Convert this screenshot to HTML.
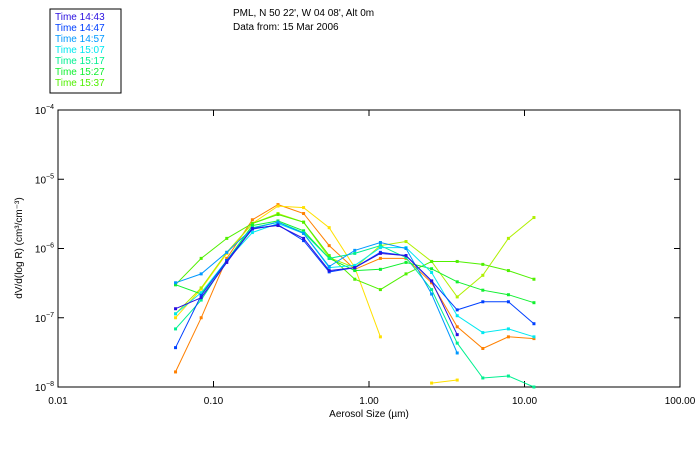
<!DOCTYPE html>
<html><head><meta charset="utf-8"><style>
body{margin:0;background:#fff;width:700px;height:450px;overflow:hidden}
svg{font-family:"Liberation Sans",sans-serif;font-size:10px}
</style></head><body>
<svg id="chart" width="700" height="450">
<rect x="50" y="9" width="71" height="84" fill="none" stroke="#000"/>
<g id="legend"></g>
<text x="233" y="16">PML, N 50 22', W 04 08', Alt 0m</text>
<text x="233" y="30">Data from: 15 Mar 2006</text>
<rect x="58" y="110" width="622" height="277" fill="none" stroke="#000"/>
<g id="axes"></g>
<g id="series"></g>
<text x="369" y="417" text-anchor="middle">Aerosol Size (µm)</text>
<text transform="translate(22,248) rotate(-90)" text-anchor="middle">dV/d(log R) (cm³/cm⁻³)</text>
</svg>
<script>
const sizes=[0.057,0.0833,0.1217,0.1778,0.2598,0.3796,0.5546,0.810,1.184,1.730,2.527,3.692,5.394,7.88,11.5];
const xTicks=[0.01,0.1,1,10,100];
const xTickLabels=["0.01","0.10","1.00","10.00","100.00"];
const yTickExp=[-4,-5,-6,-7,-8];
const seriesNames=["Time 14:43","Time 14:47","Time 14:57","Time 15:07","Time 15:17","Time 15:27","Time 15:37"];
const seriesColors=["#2a10e0","#0040ff","#0098ff","#00e8f0","#00f090","#10f030","#50f000"];
const sOrange=[1.65e-8,1e-7,7.2e-7,2.6e-6,4.3e-6,3.2e-6,1.1e-6,5.0e-7,7.2e-7,7.2e-7,3.2e-7,7.4e-8,3.6e-8,5.3e-8,5.0e-8];
const sYellow=[1e-7,2.6e-7,8.5e-7,2.3e-6,4.1e-6,3.9e-6,2.0e-6,5.3e-7,5.3e-8,null,1.14e-8,1.26e-8,null,null,null];
const sLime=[1.14e-7,2.7e-7,8.8e-7,2.3e-6,3.2e-6,2.4e-6,7.4e-7,5.3e-7,1.1e-6,1.26e-6,6.5e-7,2.0e-7,4.1e-7,1.4e-6,2.8e-6];
const s1537=[3.0e-7,7.2e-7,1.4e-6,2.3e-6,3.1e-6,2.4e-6,7.9e-7,3.6e-7,2.55e-7,4.3e-7,6.5e-7,6.5e-7,5.9e-7,4.8e-7,3.6e-7];
const s1527=[3.0e-7,2.2e-7,6.7e-7,2.15e-6,2.5e-6,1.8e-6,7.2e-7,4.8e-7,5.0e-7,6.3e-7,5.1e-7,3.3e-7,2.5e-7,2.15e-7,1.65e-7];
const s1517=[6.9e-8,1.8e-7,6.7e-7,2.0e-6,2.4e-6,1.7e-6,7.2e-7,8.5e-7,1.1e-6,7.4e-7,2.55e-7,4.3e-8,1.35e-8,1.44e-8,1.0e-8];
const s1507=[1.14e-7,2.3e-7,6.7e-7,1.7e-6,2.3e-6,1.65e-6,5.3e-7,5.7e-7,1.03e-6,1.03e-6,4.5e-7,1.07e-7,6.1e-8,6.9e-8,5.3e-8];
const s1457=[3.2e-7,4.3e-7,8.8e-7,1.95e-6,2.4e-6,1.65e-6,5.5e-7,9.4e-7,1.22e-6,1.0e-6,2.2e-7,3.1e-8,null,null,null];
const s1447=[3.7e-8,2.1e-7,6.7e-7,1.9e-6,2.2e-6,1.3e-6,4.6e-7,5.3e-7,8.8e-7,7.9e-7,3.4e-7,1.3e-7,1.7e-7,1.7e-7,8.2e-8];
const s1443=[1.35e-7,1.95e-7,6.3e-7,1.95e-6,2.15e-6,1.4e-6,4.8e-7,5.3e-7,8.5e-7,7.9e-7,3.4e-7,5.7e-8,null,null,null];
const NS="http://www.w3.org/2000/svg";
const X0=58,X1=680,Y0=110,Y1=387;
function xs(v){return X0+(Math.log10(v)+2)/4*(X1-X0);}
function ys(v){return Y0+(-4-Math.log10(v))/4*(Y1-Y0);}
function mk(tag,attrs,parent){const e=document.createElementNS(NS,tag);for(const k in attrs)e.setAttribute(k,attrs[k]);parent.appendChild(e);return e;}
const axes=document.getElementById('axes');
xTicks.forEach((t,i)=>{
  const x=xs(t);
  const a=mk('line',{x1:x,x2:x,y1:Y1,y2:Y1-6,stroke:'#000'},axes);
  
  
  const b=mk('line',{x1:x,x2:x,y1:Y0,y2:Y0+6,stroke:'#000'},axes);
  
  
  const l=mk('text',{x:x,y:Y1+17,'text-anchor':'middle'},axes);
  l.textContent=xTickLabels[i];
  
  
});
yTickExp.forEach(e=>{
  const y=ys(Math.pow(10,e));
  const a=mk('line',{x1:X0,x2:X0+6,y1:y,y2:y,stroke:'#000'},axes);
  
  
  const b=mk('line',{x1:X1,x2:X1-6,y1:y,y2:y,stroke:'#000'},axes);
  
  
  const l=mk('text',{x:X0-4,y:y+4,'text-anchor':'end'},axes);
  l.innerHTML='10<tspan dy="-5" font-size="7">'+(e<0?'−':'')+Math.abs(e)+'</tspan>';
  
  
});
const drawList=[[sOrange,"#ff8000","series-orange"],[sYellow,"#ffe000","series-yellow"],[sLime,"#b0f000","series-lime"],
 [s1537,seriesColors[6],"series-15-37"],[s1527,seriesColors[5],"series-15-27"],[s1517,seriesColors[4],"series-15-17"],
 [s1507,seriesColors[3],"series-15-07"],[s1457,seriesColors[2],"series-14-57"],[s1447,seriesColors[1],"series-14-47"],[s1443,seriesColors[0],"series-14-43"]];
const sg=document.getElementById('series');
drawList.forEach(([vals,col,name])=>{
  const g=mk('g',{},sg);
  
  
  let d='',pen=false;
  vals.forEach((v,i)=>{
    if(v==null){pen=false;return;}
    d+=(pen?'L':'M')+xs(sizes[i]).toFixed(1)+' '+ys(v).toFixed(1);pen=true;
  });
  const p=mk('path',{d:d,fill:'none',stroke:col,'stroke-width':1},g);
  
  
  vals.forEach((v,i)=>{
    if(v==null)return;
    const r=mk('rect',{x:xs(sizes[i])-1.5,y:ys(v)-1.5,width:3,height:3,fill:col},g);
    
    
  });
});
const lg=document.getElementById('legend');
seriesNames.forEach((n,i)=>{
  const t=mk('text',{x:55,y:20+i*11,fill:seriesColors[i]},lg);
  t.textContent=n;
  
  
});
</script>
</body></html>
